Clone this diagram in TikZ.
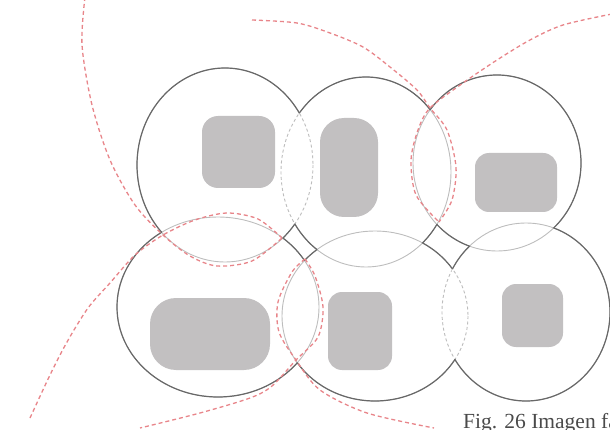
\documentclass[tikz,border=0pt]{standalone}
\usepackage{fontspec}
\setmainfont{Liberation Serif}
\usetikzlibrary{positioning}
\definecolor{rimgray}  {HTML}{686868}
\definecolor{seamgray} {HTML}{BDBDBD}
\definecolor{blobgray} {HTML}{C2C0C1}
\definecolor{guidered} {HTML}{E8858A}
\definecolor{capink}   {HTML}{4A4A4A}
\tikzset{
  % --- outlines
  rim/.style   = {draw=rimgray, line width=1.2pt, line join=round},
  seam/.style  = {draw=seamgray, line width=0.9pt},
  seamd/.style = {seam, dash pattern=on 3pt off 2.5pt},
  wipe/.style  = {draw=white, line width=3pt},
  % --- fills, guides, text
  blob/.style  = {fill=blobgray, draw=none},
  guide/.style = {draw=guidered, line width=1.3pt, dash pattern=on 4pt off 3pt},
  figcap/.style= {font=\fontsize{21.5}{24}\selectfont, text=capink, anchor=base west,
                  inner sep=0pt},
}
% --- rings, in px with y going down
\def\ringA{(225,165) ellipse [x radius=88, y radius=97]}
\def\ringB{(366,172) ellipse [x radius=85, y radius=95]}
\def\ringC{(497,163) ellipse [x radius=84, y radius=88]}
\def\ringD{(218,307) ellipse [x radius=101, y radius=90]}
\def\ringE{(375,316) ellipse [x radius=93, y radius=85]}
\def\ringF{(526,312) ellipse [x radius=84, y radius=89]}
\newcommand\outside[1]{\clip (-20,-20) -- (-20,450) -- (630,450)
  -- (630,-20) -- cycle #1;}

\begin{document}
\begin{tikzpicture}[x=1pt,y=-1pt]
  \useasboundingbox (0,0) rectangle (610,430);
  % light seams everywhere first
  \foreach \r in {\ringA,\ringB,\ringC,\ringD,\ringE,\ringF}
    \draw[seam] \r;
  % dashed seams in the A-B and E-F lenses
  \begin{scope}\clip \ringA; \draw[wipe] \ringB; \draw[seamd] \ringB; \end{scope}
  \begin{scope}\clip \ringB; \draw[wipe] \ringA; \draw[seamd] \ringA; \end{scope}
  \begin{scope}\clip \ringE; \draw[wipe] \ringF; \draw[seamd] \ringF; \end{scope}
  \begin{scope}\clip \ringF; \draw[wipe] \ringE; \draw[seamd] \ringE; \end{scope}
  % dark outer rims
  \begin{scope}[even odd rule]\outside\ringB\outside\ringD \draw[rim] \ringA; \end{scope}
  \begin{scope}[even odd rule]\outside\ringA\outside\ringC\outside\ringE \draw[rim] \ringB; \end{scope}
  \begin{scope}[even odd rule]\outside\ringB\outside\ringF \draw[rim] \ringC; \end{scope}
  \begin{scope}[even odd rule]\outside\ringA\outside\ringE \draw[rim] \ringD; \end{scope}
  \begin{scope}[even odd rule]\outside\ringB\outside\ringD\outside\ringF \draw[rim] \ringE; \end{scope}
  \begin{scope}[even odd rule]\outside\ringC\outside\ringE \draw[rim] \ringF; \end{scope}
  % gray blocks
  \fill[blob, rounded corners=16pt] (202,116) rectangle (275,188);
  \fill[blob, rounded corners=24pt] (320,118) rectangle (378,217);
  \fill[blob, rounded corners=14pt] (475,153) rectangle (557,212);
  \fill[blob, rounded corners=26pt] (150,298) rectangle (270,370);
  \fill[blob, rounded corners=14pt] (328,292) rectangle (392,370);
  \fill[blob, rounded corners=14pt] (502,284) rectangle (563,347);
  % red guide arcs
  \draw[guide] plot[smooth] coordinates {(85,-3) (82,45) (92,105) (110,160) (135,205)
    (163,235) (190,256) (217,266) (252,261) (282,238)};
  \draw[guide] plot[smooth] coordinates {(30,418) (50,375) (67,342) (88,308) (110,283)
    (135,255) (163,235) (195,220) (227,213) (258,219) (282,238)};
  \draw[guide] plot[smooth] coordinates {(252,20) (297,23) (330,33) (363,47) (390,67)
    (417,90) (430,108) (447,130) (456,167) (452,200) (439,222)};
  \draw[guide] plot[smooth] coordinates {(612,14) (563,25) (530,40) (497,60) (463,83)
    (430,108) (418,130) (411,160) (416,195) (439,222)};
  \draw[guide] plot[smooth] coordinates {(305,259) (292,272) (278,302) (279,332)
    (296,360) (320,390) (367,413) (434,428)};
  \draw[guide] plot[smooth] coordinates {(305,259) (315,276) (323,307) (318,337)
    (296,360) (272,386) (250,398) (200,413) (140,428)};
  \node[figcap] (caption) at (463,428) {Fig. 26 Imagen fa};
\end{tikzpicture}
\end{document}
